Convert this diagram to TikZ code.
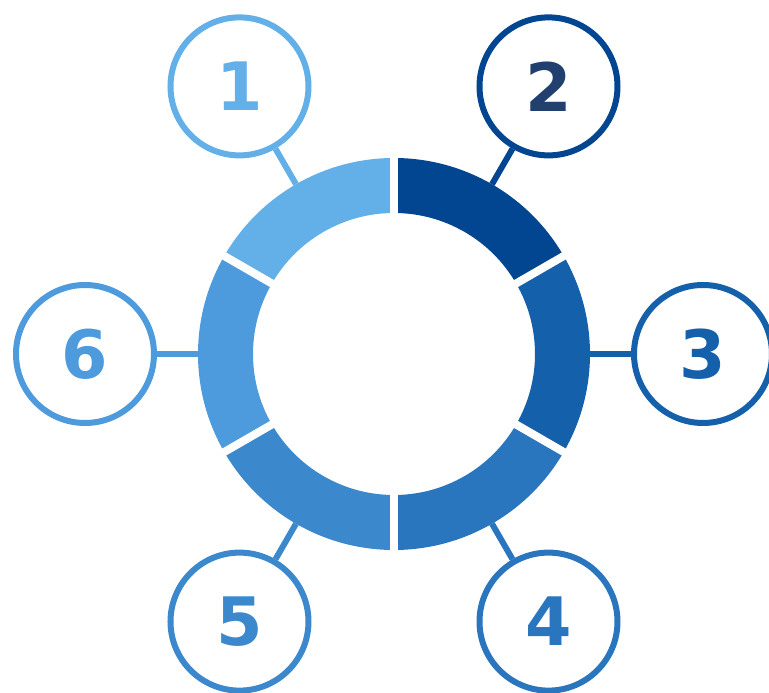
\documentclass[tikz,border=0pt]{standalone}
\usepackage{fontspec}
\setsansfont{DejaVu Sans}
\usepackage{tikz}
\usetikzlibrary{calc}

\definecolor{blueA}{RGB}{99,176,232}
\definecolor{blueB}{RGB}{2,70,145}
\definecolor{blueBtxt}{RGB}{33,64,112}
\definecolor{blueC}{RGB}{21,96,170}
\definecolor{blueD}{RGB}{42,118,190}
\definecolor{blueE}{RGB}{60,136,205}
\definecolor{blueF}{RGB}{77,155,220}

\begin{document}
\begin{tikzpicture}[
    numcircle/.style={circle, draw=#1, line width=0.12cm, fill=white,
      minimum size=2.76cm, inner sep=0pt, text=#1,
      font=\sffamily\bfseries\fontsize{38}{38}\selectfont},
    link/.style={draw=#1, line width=0.12cm}
  ]
  \useasboundingbox (-7.88,-6.78) rectangle (7.5,7.08);

  % points on the ring where the links meet it
  \coordinate (r1) at (120:3.92);
  \coordinate (r2) at (60:3.92);
  \coordinate (r3) at (0:3.92);
  \coordinate (r4) at (-60:3.92);
  \coordinate (r5) at (-120:3.92);
  \coordinate (r6) at (180:3.92);

  % numbered circles
  \node [numcircle=blueA] (c1) at (120:6.18) {1};
  \node [numcircle=blueB, text=blueBtxt] (c2) at (60:6.18) {2};
  \node [numcircle=blueC] (c3) at (0:6.18) {3};
  \node [numcircle=blueD] (c4) at (-60:6.18) {4};
  \node [numcircle=blueE] (c5) at (-120:6.18) {5};
  \node [numcircle=blueF] (c6) at (180:6.18) {6};

  % links
  \draw [link=blueA] (c1) -- (r1);
  \draw [link=blueB] (c2) -- (r2);
  \draw [link=blueC] (c3) -- (r3);
  \draw [link=blueD] (c4) -- (r4);
  \draw [link=blueE] (c5) -- (r5);
  \draw [link=blueF] (c6) -- (r6);

  % ring segments
  \foreach \a/\col in {90/blueA, 30/blueB, -30/blueC, -90/blueD, -150/blueE, 150/blueF} {
    \fill [\col] (\a:3.92) arc [start angle=\a, end angle=\a+60, radius=3.92]
      -- (\a+60:2.82) arc [start angle=\a+60, end angle=\a, radius=2.82] -- cycle;
  }

  % gaps between the segments
  \foreach \a in {90,30,-30,-90,-150,150}
    \draw [white, line width=0.16cm] (\a:2.7) -- (\a:4.05);
\end{tikzpicture}
\end{document}
